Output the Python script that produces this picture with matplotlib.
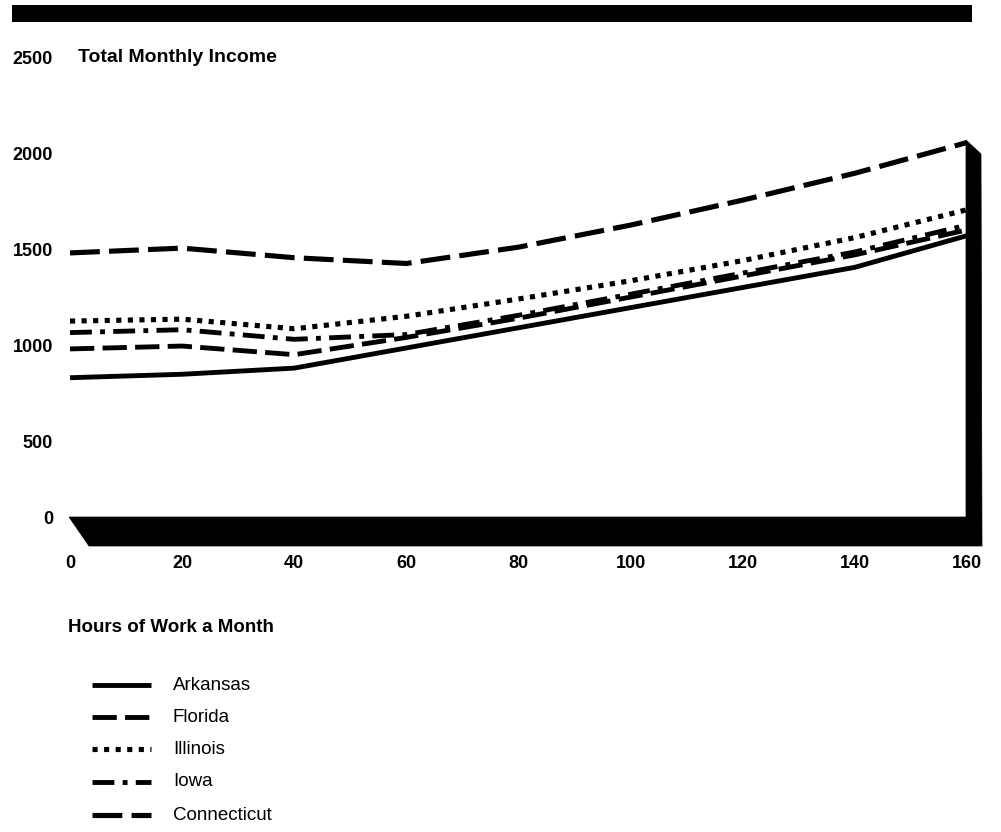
import matplotlib
matplotlib.use("Agg")
import matplotlib.pyplot as plt
from matplotlib.patches import Polygon, Rectangle

plt.rcParams['font.family'] = ['Liberation Sans', 'DejaVu Sans']

hours = [0, 20, 40, 60, 80, 100, 120, 140, 160]
arkansas = [840, 858, 890, 995, 1100, 1205, 1310, 1415, 1580]
florida = [990, 1005, 960, 1050, 1150, 1260, 1370, 1480, 1610]
illinois = [1135, 1145, 1095, 1160, 1250, 1345, 1450, 1570, 1715]
iowa = [1075, 1090, 1040, 1065, 1165, 1275, 1385, 1495, 1635]
connecticut = [1490, 1515, 1465, 1435, 1520, 1635, 1765, 1905, 2065]

series = ["Arkansas", "Florida", "Illinois", "Iowa", "Connecticut"]
y_ticks = [0, 500, 1000, 1500, 2000, 2500]
x_ticks = [0, 20, 40, 60, 80, 100, 120, 140, 160]

W, H = 1001, 832
fig = plt.figure(figsize=(W / 100, H / 100), dpi=100)


def px(x, y):
    return (x / W, 1 - y / H)


# plot area: x 0..160 -> 70..967 px, y 0..2500 -> 539..59 px
ax = fig.add_axes([70 / W, 1 - 539 / H, (967 - 70) / W, (539 - 59) / H])
ax.set_xlim(0, 160)
ax.set_ylim(0, 2500)
ax.axis("off")

styles = {
    "Arkansas": dict(ls="-", lw=3.5),
    "Florida": dict(ls=(0, (5, 1.7)), lw=3.5),
    "Illinois": dict(ls=(0, (1, 1.25)), lw=3.7),
    "Iowa": dict(ls=(0, (4.5, 1.7, 1, 1.7)), lw=3.5),
    "Connecticut": dict(ls=(0, (5.8, 1.8)), lw=3.7),
}
values = [arkansas, florida, illinois, iowa, connecticut]
for name, vals in zip(series, values):
    ax.plot(hours, vals, color="black", solid_capstyle="butt",
            dash_capstyle="butt", clip_on=False, **styles[name])

# black header band
fig.add_artist(Rectangle(px(12, 22), 960 / W, 17 / H, transform=fig.transFigure,
                         color="black", lw=0))

# floor and right wall of the box
floor = [px(69, 517), px(967, 517), px(982, 546), px(89, 546)]
wall = [px(966, 140), px(981, 154), px(982, 546), px(966, 517)]
for pts in (floor, wall):
    fig.add_artist(Polygon(pts, closed=True, transform=fig.transFigure,
                           facecolor="black", edgecolor="black", lw=0.5))

# y tick labels
for v in y_ticks:
    ypix = 539 - v * 0.192
    if v == 0:
        ypix = 520
    fig.text(53 / W, 1 - ypix / H, str(v), ha="right", va="center",
             fontsize=13, fontweight="bold")

fig.text(*px(78, 58), "Total Monthly Income", ha="left", va="center",
         fontsize=14, fontweight="bold")

# x tick labels
for v in x_ticks:
    xpix = 70 + v * (967 - 70) / 160
    fig.text(*px(xpix, 563), str(v), ha="center", va="center",
             fontsize=13, fontweight="bold")

fig.text(*px(68, 628), "Hours of Work a Month", ha="left", va="center",
         fontsize=13.5, fontweight="bold")

# legend
rows = [685, 717, 749, 782, 815]
for name, ypix in zip(series, rows):
    y = 1 - ypix / H
    fig.add_artist(plt.Line2D([92 / W, 151 / W], [y, y], color="black",
                              transform=fig.transFigure,
                              solid_capstyle="butt", dash_capstyle="butt",
                              **styles[name]))
    fig.text(173 / W, y, name, ha="left", va="center", fontsize=13.5)

fig.savefig("out.png", dpi=100)
